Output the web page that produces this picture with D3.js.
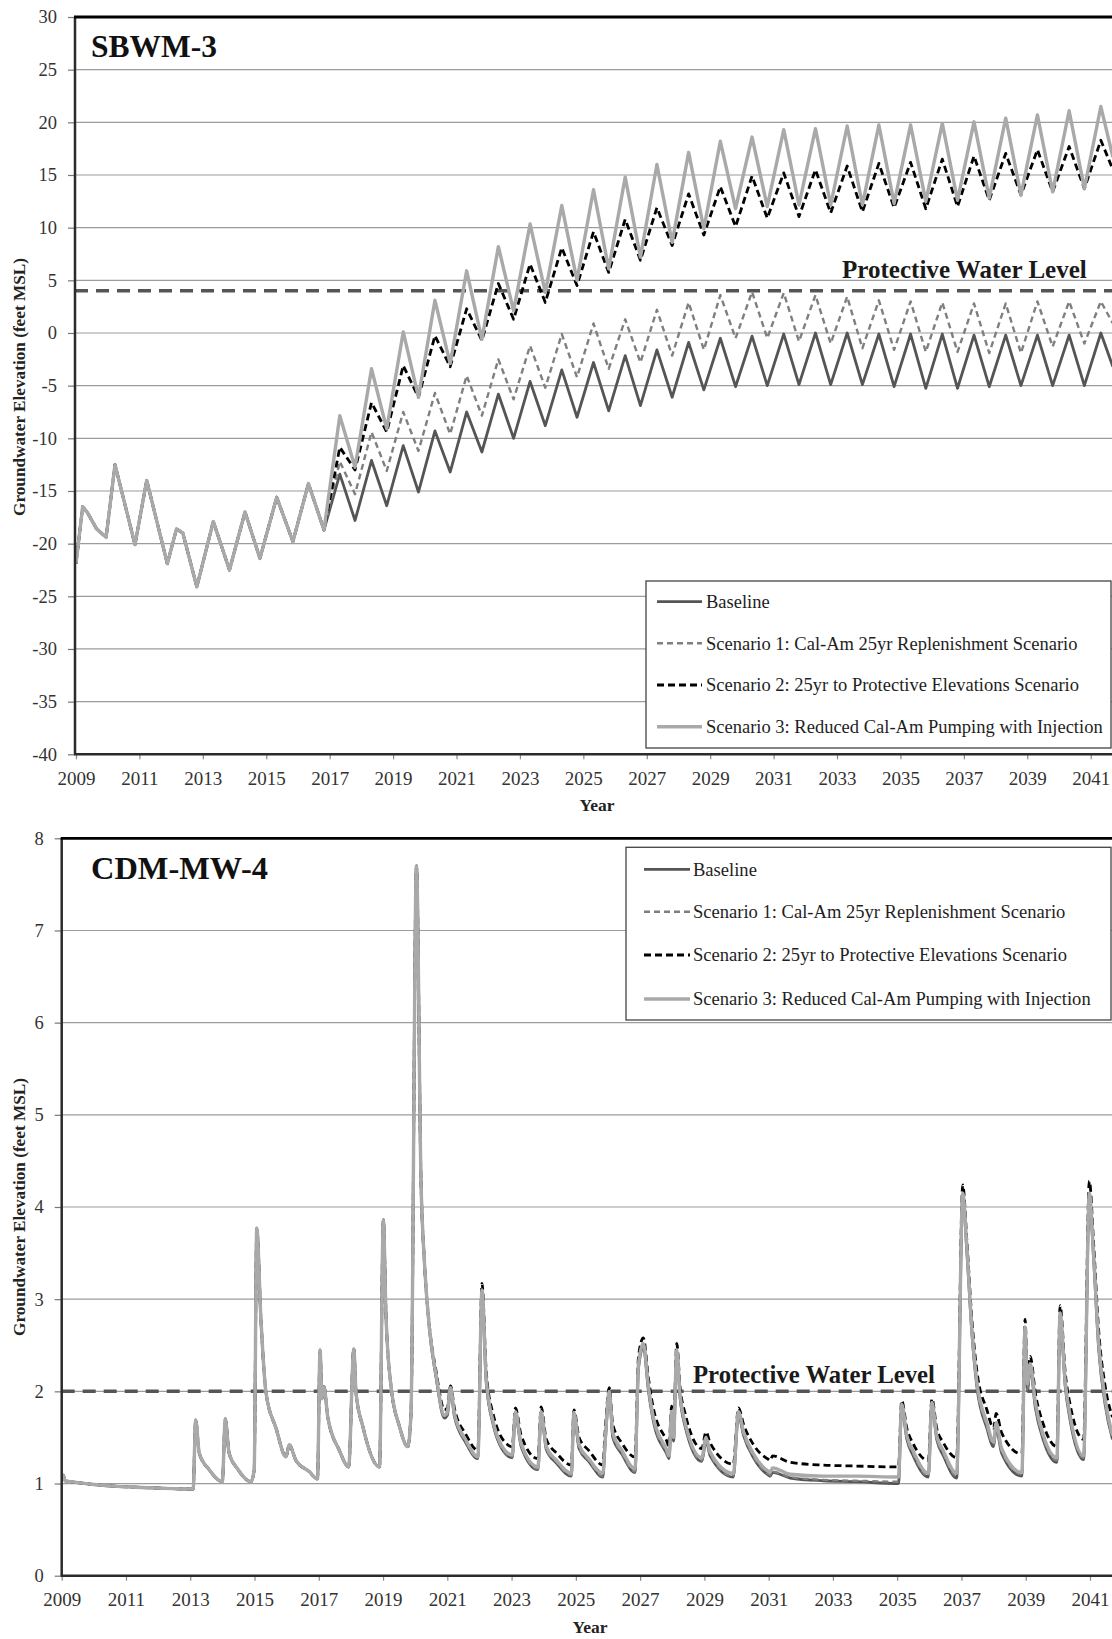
<!DOCTYPE html>
<html>
<head>
<meta charset="utf-8">
<script src="https://cdn.jsdelivr.net/npm/d3@7"></script>
<style>
  html, body { margin: 0; padding: 0; background: #fff; }
  svg { display: block; font-family: "Liberation Serif", "Times New Roman", serif; }
</style>
</head>
<body>
<svg id="chart" width="1112" height="1639"></svg>
<script>
// ---------- shared labels ----------
const seriesNames = [
  "Baseline",
  "Scenario 1: Cal-Am 25yr Replenishment Scenario",
  "Scenario 2: 25yr to Protective Elevations Scenario",
  "Scenario 3: Reduced Cal-Am Pumping with Injection"
];
const xTickYears = [2009, 2011, 2013, 2015, 2017, 2019, 2021, 2023, 2025, 2027, 2029, 2031, 2033, 2035, 2037, 2039, 2041];

// ---------- SBWM-3 (upper panel) ----------
const topTitle = "SBWM-3";
const topYTicks = [-40, -35, -30, -25, -20, -15, -10, -5, 0, 5, 10, 15, 20, 25, 30];
const topProtective = 4;

// observed record, common to every scenario
const topHistT = [2009.00, 2009.21, 2009.35, 2009.65, 2009.95, 2010.23, 2010.86, 2011.23, 2011.88, 2012.17,
                  2012.37, 2012.81, 2013.33, 2013.84, 2014.33, 2014.80, 2015.33, 2015.84, 2016.33];
const topHistV = [-21.9, -16.5, -17.0, -18.6, -19.4, -12.5, -20.1, -14.0, -21.9, -18.6,
                  -19.0, -24.1, -17.9, -22.5, -17.0, -21.4, -15.6, -19.8, -14.3];

// projected seasonal highs / lows
const topScenT = [2016.82,
  2017.32, 2017.80, 2018.32, 2018.80, 2019.32, 2019.80, 2020.32, 2020.80, 2021.32, 2021.80,
  2022.32, 2022.80, 2023.32, 2023.80, 2024.32, 2024.80, 2025.32, 2025.80, 2026.32, 2026.80,
  2027.32, 2027.80, 2028.32, 2028.80, 2029.32, 2029.80, 2030.32, 2030.80, 2031.32, 2031.80,
  2032.32, 2032.80, 2033.32, 2033.80, 2034.32, 2034.80, 2035.32, 2035.80, 2036.32, 2036.80,
  2037.32, 2037.80, 2038.32, 2038.80, 2039.32, 2039.80, 2040.32, 2040.80, 2041.32, 2041.70];
const topBaseline = [-18.7,
  -13.4, -17.8, -12.1, -16.4, -10.7, -15.1, -9.3, -13.2, -7.5, -11.3,
  -5.8, -10.0, -4.6, -8.8, -3.5, -8.0, -2.8, -7.4, -2.15, -6.9,
  -1.6, -6.1, -0.9, -5.4, -0.5, -5.1, -0.3, -5.0, -0.1, -4.9,
  0.0, -4.9, 0.0, -4.9, -0.1, -5.1, -0.1, -5.25, -0.1, -5.25,
  -0.2, -5.1, -0.2, -5.0, -0.2, -5.0, -0.2, -5.0, 0.0, -3.2];
const topScen1 = [-18.7,
  -12.2, -15.3, -9.4, -13.1, -7.5, -11.2, -5.7, -9.6, -4.05, -7.85,
  -2.5, -6.3, -1.2, -5.2, -0.1, -4.2, 0.9, -3.4, 1.3, -2.8,
  2.2, -2.15, 2.9, -1.6, 3.6, -0.5, 3.9, -0.5, 3.8, -0.8,
  3.6, -1.0, 3.45, -1.45, 3.1, -1.6, 3.0, -1.8, 2.9, -1.8,
  2.8, -1.9, 2.8, -1.9, 3.0, -1.3, 3.0, -1.0, 3.0, 0.9];
const topScen2 = [-18.7,
  -10.85, -13.0, -6.6, -9.4, -3.1, -6.1, -0.25, -3.2, 2.3, -0.7,
  4.7, 1.3, 6.55, 2.9, 8.1, 4.5, 9.6, 5.75, 10.8, 6.9,
  11.9, 8.3, 13.2, 9.3, 13.9, 10.1, 14.9, 10.9, 15.2, 11.05,
  15.5, 11.4, 15.85, 11.5, 16.1, 11.9, 16.2, 11.8, 16.5, 12.0,
  16.8, 12.6, 17.05, 13.1, 17.4, 13.4, 17.7, 13.7, 18.3, 15.5];
const topScen3 = [-18.7,
  -7.85, -12.75, -3.4, -9.1, 0.1, -6.1, 3.1, -2.9, 5.9, -0.6,
  8.2, 2.1, 10.35, 3.85, 12.1, 5.0, 13.6, 6.1, 14.8, 7.2,
  16.0, 8.6, 17.15, 9.9, 18.2, 11.8, 18.6, 12.0, 19.3, 12.15,
  19.4, 12.15, 19.65, 12.15, 19.75, 12.3, 19.75, 12.5, 19.9, 12.6,
  20.05, 12.8, 20.4, 13.1, 20.7, 13.4, 21.1, 13.7, 21.5, 16.7];

// ---------- CDM-MW-4 (lower panel) ----------
const botTitle = "CDM-MW-4";
const botYTicks = [0, 1, 2, 3, 4, 5, 6, 7, 8];
const botProtective = 2;

const botHistT = [2009.00, 2009.05, 2009.10, 2009.28, 2010.27, 2011.30, 2012.45, 2013.09, 2013.17, 2013.28,
                  2013.59, 2014.00, 2014.09, 2014.21, 2014.47, 2014.89, 2014.99, 2015.07, 2015.20, 2015.36,
                  2015.67, 2015.98, 2016.08, 2016.29, 2016.70, 2016.96, 2017.04, 2017.10, 2017.16, 2017.28,
                  2017.64, 2017.93, 2018.09, 2018.16, 2018.37, 2018.89, 2019.01, 2019.09, 2019.25, 2019.51,
                  2019.77, 2019.87, 2020.04, 2020.18, 2020.29];
const botHistV = [1.05, 1.09, 1.03, 1.02, 0.98, 0.96, 0.945, 0.94, 1.69, 1.33,
                  1.15, 1.02, 1.70, 1.33, 1.16, 1.02, 1.15, 3.77, 2.78, 1.98,
                  1.60, 1.29, 1.42, 1.25, 1.13, 1.05, 2.45, 1.92, 2.05, 1.72,
                  1.36, 1.18, 2.46, 1.98, 1.62, 1.18, 3.86, 2.85, 2.05, 1.62,
                  1.40, 1.76, 7.70, 4.30, 3.39];

const botScenT = [
  2020.44, 2020.65, 2020.91, 2021.00, 2021.10, 2021.22, 2021.58, 2021.95, 2022.08, 2022.21,
  2022.42, 2022.88, 2023.02, 2023.12, 2023.30, 2023.82, 2023.92, 2024.08, 2024.40, 2024.86,
  2024.94, 2025.10, 2025.40, 2025.84, 2025.91, 2026.04, 2026.15, 2026.43, 2026.84, 2026.95,
  2027.10, 2027.26, 2027.41, 2027.83, 2027.90, 2027.98, 2028.04, 2028.14, 2028.24, 2028.40,
  2028.92, 2029.05, 2029.18, 2029.90, 2030.06, 2030.22, 2030.53, 2031.00, 2031.05, 2031.12,
  2031.67, 2032.70, 2033.70, 2035.04, 2035.14, 2035.30, 2035.50, 2035.97, 2036.08, 2036.23,
  2036.44, 2036.85, 2037.04, 2037.17, 2037.33, 2037.48, 2037.79, 2038.00, 2038.08, 2038.25,
  2038.88, 2038.98, 2039.05, 2039.14, 2039.30, 2039.55, 2039.97, 2040.07, 2040.23, 2040.38,
  2040.80, 2040.98, 2041.11, 2041.27, 2041.47, 2041.70];
const botBaseline = [
  2.68, 2.15, 1.71, 1.74, 2.00, 1.73, 1.44, 1.27, 3.08, 2.10,
  1.65, 1.30, 1.28, 1.74, 1.40, 1.15, 1.75, 1.37, 1.22, 1.08,
  1.74, 1.38, 1.24, 1.07, 1.42, 1.96, 1.50, 1.32, 1.12, 2.25,
  2.48, 2.00, 1.68, 1.32, 1.27, 1.74, 1.46, 2.42, 1.94, 1.62,
  1.24, 1.46, 1.30, 1.07, 1.74, 1.52, 1.28, 1.09, 1.08, 1.12,
  1.06, 1.03, 1.02, 1.00, 1.82, 1.48, 1.30, 1.07, 1.84, 1.48,
  1.30, 1.06, 4.10, 3.50, 2.60, 2.05, 1.60, 1.40, 1.60, 1.33,
  1.08, 2.65, 2.00, 2.25, 1.82, 1.47, 1.23, 2.80, 2.05, 1.69,
  1.26, 4.10, 3.45, 2.46, 1.86, 1.48];
const botScen1 = [
  2.69, 2.16, 1.72, 1.75, 2.01, 1.74, 1.45, 1.28, 3.09, 2.11,
  1.66, 1.31, 1.29, 1.75, 1.41, 1.16, 1.76, 1.38, 1.23, 1.09,
  1.75, 1.39, 1.25, 1.08, 1.43, 1.97, 1.52, 1.33, 1.13, 2.27,
  2.50, 2.02, 1.69, 1.33, 1.28, 1.76, 1.47, 2.43, 1.95, 1.63,
  1.25, 1.47, 1.31, 1.08, 1.76, 1.53, 1.29, 1.10, 1.09, 1.13,
  1.07, 1.04, 1.03, 1.02, 1.84, 1.49, 1.32, 1.08, 1.85, 1.49,
  1.32, 1.08, 4.12, 3.52, 2.62, 2.07, 1.62, 1.42, 1.62, 1.35,
  1.10, 2.67, 2.02, 2.27, 1.84, 1.49, 1.25, 2.82, 2.07, 1.71,
  1.28, 4.12, 3.47, 2.48, 1.88, 1.50];
const botScen2 = [
  2.72, 2.22, 1.80, 1.82, 2.06, 1.82, 1.53, 1.36, 3.17, 2.22,
  1.76, 1.42, 1.40, 1.82, 1.52, 1.27, 1.83, 1.48, 1.33, 1.20,
  1.80, 1.50, 1.36, 1.20, 1.56, 2.04, 1.64, 1.44, 1.29, 2.38,
  2.58, 2.14, 1.82, 1.46, 1.40, 1.84, 1.60, 2.52, 2.06, 1.76,
  1.38, 1.56, 1.44, 1.21, 1.82, 1.64, 1.42, 1.26, 1.25, 1.30,
  1.23, 1.20, 1.19, 1.18, 1.90, 1.60, 1.43, 1.25, 1.92, 1.60,
  1.44, 1.28, 4.24, 3.62, 2.75, 2.22, 1.80, 1.60, 1.76, 1.55,
  1.32, 2.78, 2.18, 2.38, 1.98, 1.64, 1.40, 2.93, 2.20, 1.86,
  1.48, 4.28, 3.62, 2.66, 2.06, 1.72];
const botScen3 = [
  2.70, 2.18, 1.74, 1.78, 2.04, 1.76, 1.47, 1.29, 3.10, 2.14,
  1.68, 1.33, 1.31, 1.78, 1.43, 1.18, 1.78, 1.40, 1.25, 1.11,
  1.77, 1.42, 1.27, 1.11, 1.45, 2.00, 1.55, 1.36, 1.16, 2.30,
  2.52, 2.05, 1.72, 1.36, 1.30, 1.78, 1.50, 2.45, 1.98, 1.66,
  1.28, 1.50, 1.34, 1.11, 1.78, 1.56, 1.32, 1.13, 1.12, 1.17,
  1.10, 1.08, 1.08, 1.07, 1.86, 1.52, 1.35, 1.11, 1.88, 1.52,
  1.35, 1.11, 4.15, 3.55, 2.65, 2.10, 1.66, 1.45, 1.66, 1.38,
  1.12, 2.70, 2.08, 2.30, 1.88, 1.52, 1.28, 2.85, 2.10, 1.74,
  1.30, 4.15, 3.50, 2.52, 1.92, 1.52];

// ---------- drawing ----------
const lineStyles = [
  { color: "#555555", width: 2.8, dash: null },
  { color: "#7f7f7f", width: 2.4, dash: "6,4" },
  { color: "#000000", width: 2.8, dash: "7,4" },
  { color: "#a9a9a9", width: 3.4, dash: null }
];
const svg = d3.select("#chart");
const W = 1112;
const SERIF = '"Liberation Serif","Times New Roman",serif';

function fitWidth(sel, target) {
  const len = sel.node().getComputedTextLength();
  if (len > 0) sel.attr("font-size", parseFloat(sel.attr("font-size")) * target / len);
  return sel;
}

function joinSeries(ht, hv, st, sv) {
  const pts = ht.map((t, i) => [t, hv[i]]);
  return pts.concat(st.map((t, i) => [t, sv[i]]));
}

function drawPanel(cfg) {
  const g = svg.append("g");
  const x = d3.scaleLinear().domain([2009, 2041]).range([cfg.x2009, cfg.x2041]);
  const y = d3.scaleLinear().domain(cfg.yDomain).range([cfg.bottom, cfg.top]);

  // horizontal gridlines
  const inner = cfg.yTicks.filter(v => v !== cfg.yDomain[0] && v !== cfg.yDomain[1]);
  g.append("g").selectAll("line").data(inner).join("line")
    .attr("x1", cfg.left).attr("x2", W)
    .attr("y1", d => y(d)).attr("y2", d => y(d))
    .attr("stroke", "#9c9c9c").attr("stroke-width", 1.2);

  // protective water level
  g.append("line")
    .attr("x1", cfg.left).attr("x2", W)
    .attr("y1", y(cfg.protective)).attr("y2", y(cfg.protective))
    .attr("stroke", "#555").attr("stroke-width", 3.5)
    .attr("stroke-dasharray", "13,8");

  // scenario lines
  const clipId = "clip-" + cfg.id;
  svg.append("clipPath").attr("id", clipId).append("rect")
    .attr("x", cfg.left).attr("y", cfg.top).attr("width", W - cfg.left).attr("height", cfg.bottom - cfg.top);
  const line = d3.line().x(d => x(d[0])).y(d => y(d[1])).curve(cfg.curve);
  const lines = g.append("g").attr("clip-path", `url(#${clipId})`);
  cfg.series.forEach((vals, i) => {
    const st = lineStyles[i];
    lines.append("path")
      .datum(joinSeries(cfg.histT, cfg.histV, cfg.scenT, vals))
      .attr("d", line)
      .attr("fill", "none")
      .attr("stroke", st.color)
      .attr("stroke-width", st.width)
      .attr("stroke-linejoin", "round")
      .attr("stroke-dasharray", st.dash);
  });

  // legend
  const L = cfg.legend;
  const lg = g.append("g");
  lg.append("rect").attr("x", L.x).attr("y", L.y).attr("width", L.w).attr("height", L.h)
    .attr("fill", "#fff").attr("stroke", "#444").attr("stroke-width", 1.3);
  const labels = [];
  seriesNames.forEach((name, i) => {
    const st = lineStyles[i];
    lg.append("line").attr("x1", L.lx1).attr("x2", L.lx2).attr("y1", L.rows[i]).attr("y2", L.rows[i])
      .attr("stroke", st.color).attr("stroke-width", st.width).attr("stroke-dasharray", st.dash);
    labels.push(lg.append("text").attr("x", L.tx).attr("y", L.rows[i]).attr("dy", "0.34em")
      .attr("font-size", 17).attr("fill", "#1e1e1e").text(name));
  });
  fitWidth(labels[3], L.textW);
  const fs = labels[3].attr("font-size");
  labels.forEach(t => t.attr("font-size", fs));

  // y axis
  const yAxis = d3.axisLeft(y).tickValues(cfg.yTicks).tickSize(7).tickPadding(11)
    .tickSizeOuter(0).tickFormat(d => String(d));
  const ya = g.append("g").attr("transform", `translate(${cfg.left},0)`).call(yAxis);
  ya.attr("font-size", null).attr("font-family", null);
  ya.select(".domain").remove();
  ya.selectAll(".tick line").attr("stroke", "#777").attr("stroke-width", 1.2);
  ya.selectAll(".tick text").style("font-size", "18.5px").attr("fill", "#333").style("font-family", SERIF);

  // x axis
  const xAxis = d3.axisBottom(x).tickValues(xTickYears).tickSize(5).tickPadding(12)
    .tickSizeOuter(0).tickFormat(d => String(d));
  const xa = g.append("g").attr("transform", `translate(0,${cfg.bottom})`).call(xAxis);
  xa.attr("font-size", null).attr("font-family", null);
  xa.select(".domain").remove();
  xa.selectAll(".tick line").attr("stroke", "#888").attr("stroke-width", 1.2);
  xa.selectAll(".tick text").style("font-size", "19px").attr("fill", "#333").style("font-family", SERIF);

  // frame: bottom axis, left axis, top border
  g.append("line").attr("x1", cfg.left - 1).attr("x2", W).attr("y1", cfg.bottom).attr("y2", cfg.bottom)
    .attr("stroke", "#2b2b2b").attr("stroke-width", 2.5);
  g.append("line").attr("x1", cfg.left).attr("x2", cfg.left).attr("y1", cfg.top).attr("y2", cfg.bottom)
    .attr("stroke", "#2b2b2b").attr("stroke-width", 2.5);
  g.append("line").attr("x1", cfg.left - 1).attr("x2", W).attr("y1", cfg.top).attr("y2", cfg.top)
    .attr("stroke", "#000").attr("stroke-width", 2.8);

  // panel title
  fitWidth(g.append("text").attr("x", cfg.titleX).attr("y", cfg.titleY)
    .attr("font-size", 30).attr("font-weight", "bold").attr("fill", "#111").text(cfg.title), cfg.titleW);

  // protective level label
  fitWidth(g.append("text").attr("x", cfg.protX).attr("y", cfg.protY)
    .attr("font-size", 22).attr("font-weight", "bold").attr("fill", "#1a1a1a")
    .text("Protective Water Level"), cfg.protW);

  // axis titles
  fitWidth(g.append("text").attr("transform", `translate(${cfg.yTitleX},${cfg.yTitleY}) rotate(-90)`)
    .attr("text-anchor", "middle").attr("dy", "0.35em")
    .attr("font-size", 15).attr("font-weight", "bold").attr("fill", "#222")
    .text("Groundwater Elevation (feet MSL)"), 258);
  fitWidth(g.append("text").attr("x", cfg.yearX).attr("y", cfg.yearY).attr("text-anchor", "middle")
    .attr("font-size", 16).attr("font-weight", "bold").attr("fill", "#222").text("Year"), 35);
}

drawPanel({
  id: "sbwm", title: topTitle, titleX: 91, titleY: 57, titleW: 126,
  left: 75, top: 17, bottom: 754.3, x2009: 76, x2041: 1090.7,
  yDomain: [-40, 30], yTicks: topYTicks, protective: topProtective,
  protX: 842, protY: 277.5, protW: 245,
  histT: topHistT, histV: topHistV, scenT: topScenT,
  series: [topBaseline, topScen1, topScen2, topScen3],
  curve: d3.curveLinear,
  legend: { x: 646, y: 581, w: 465, h: 167, rows: [601.7, 643.3, 685, 726.7],
            lx1: 657, lx2: 702, tx: 706, textW: 397 },
  yTitleX: 18.5, yTitleY: 387, yearX: 597, yearY: 811
});

drawPanel({
  id: "cdm", title: botTitle, titleX: 91, titleY: 879.3, titleW: 177,
  left: 61.7, top: 838.3, bottom: 1575.7, x2009: 61.7, x2041: 1090,
  yDomain: [0, 8], yTicks: botYTicks, protective: botProtective,
  protX: 693, protY: 1383, protW: 242,
  histT: botHistT, histV: botHistV, scenT: botScenT,
  series: [botBaseline, botScen1, botScen2, botScen3],
  curve: d3.curveMonotoneX,
  legend: { x: 626, y: 847.3, w: 485, h: 172.7, rows: [869.3, 911.7, 955, 999],
            lx1: 644, lx2: 690, tx: 693, textW: 398 },
  yTitleX: 19, yTitleY: 1207, yearX: 590, yearY: 1633
});
</script>
</body>
</html>
